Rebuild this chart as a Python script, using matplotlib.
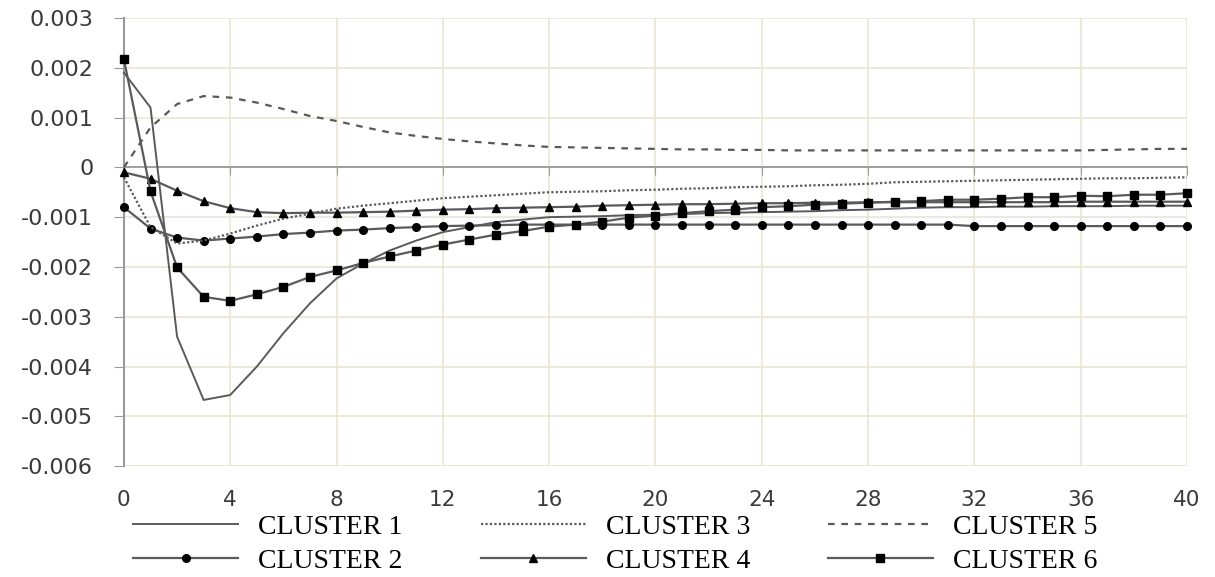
import numpy as np
import matplotlib
matplotlib.use("Agg")
import matplotlib.pyplot as plt

periods = list(range(0, 41))

cluster1 = [0.0019, 0.0012, -0.0034, -0.00467, -0.00457, -0.0040, -0.00333, -0.00273, -0.00223, -0.00193,
            -0.00167, -0.00147, -0.0013, -0.0012, -0.0011, -0.00105, -0.0010, -0.00099, -0.00098, -0.00096,
            -0.00095, -0.00094, -0.00092, -0.00091, -0.0009, -0.00089, -0.00088, -0.00086, -0.00085, -0.00083,
            -0.00081, -0.0008, -0.0008, -0.00079, -0.00079, -0.00078, -0.00078, -0.00078, -0.00077, -0.00077,
            -0.00077]
cluster2 = [-0.0008, -0.00123, -0.00141, -0.00147, -0.00143, -0.00139, -0.00134, -0.00131, -0.00127, -0.00125,
            -0.00122, -0.0012, -0.00118, -0.00117, -0.00116, -0.00115, -0.00115, -0.00115, -0.00115, -0.00115,
            -0.00115, -0.00115, -0.00115, -0.00115, -0.00115, -0.00115, -0.00115, -0.00115, -0.00115, -0.00115,
            -0.00115, -0.00115, -0.00118, -0.00118, -0.00118, -0.00118, -0.00118, -0.00118, -0.00118, -0.00118,
            -0.00118]
cluster3 = [-0.0002, -0.0012, -0.00153, -0.00147, -0.00133, -0.00117, -0.00103, -0.00093, -0.00083, -0.00077,
            -0.00072, -0.00067, -0.00062, -0.00059, -0.00056, -0.00053, -0.0005, -0.00049, -0.00048, -0.00046,
            -0.00045, -0.00043, -0.00042, -0.0004, -0.00039, -0.00038, -0.00036, -0.00035, -0.00033, -0.0003,
            -0.00029, -0.00028, -0.00027, -0.00026, -0.00025, -0.00024, -0.00023, -0.00022, -0.00022, -0.00021,
            -0.0002]
cluster4 = [-0.0001, -0.00023, -0.00047, -0.00068, -0.00082, -0.0009, -0.00092, -0.00091, -0.00091, -0.0009,
            -0.00089, -0.00087, -0.00085, -0.00084, -0.00082, -0.00081, -0.0008, -0.00079, -0.00077, -0.00076,
            -0.00075, -0.00074, -0.00074, -0.00073, -0.00072, -0.00072, -0.00071, -0.00071, -0.0007, -0.0007,
            -0.0007, -0.0007, -0.0007, -0.0007, -0.0007, -0.0007, -0.00069, -0.00069, -0.00069, -0.00069,
            -0.00069]
cluster5 = [0.0, 0.0008, 0.00127, 0.00143, 0.0014, 0.0013, 0.00117, 0.00103, 0.00093, 0.00081,
            0.0007, 0.00063, 0.00057, 0.00052, 0.00048, 0.00044, 0.00041, 0.0004, 0.00039, 0.00038,
            0.00037, 0.00036, 0.00036, 0.00035, 0.00035, 0.00034, 0.00034, 0.00034, 0.00034, 0.00034,
            0.00034, 0.00034, 0.00034, 0.00034, 0.00034, 0.00034, 0.00034, 0.00035, 0.00036, 0.00037,
            0.00037]
cluster6 = [0.00217, -0.00048, -0.00201, -0.0026, -0.00268, -0.00255, -0.0024, -0.0022, -0.00207, -0.00192,
            -0.00179, -0.00167, -0.00155, -0.00145, -0.00135, -0.00128, -0.00119, -0.00115, -0.00109, -0.00101,
            -0.00097, -0.00092, -0.00088, -0.00085, -0.0008, -0.00078, -0.00075, -0.00073, -0.00071, -0.00069,
            -0.00068, -0.00065, -0.00065, -0.00063, -0.0006, -0.0006, -0.00057, -0.00058, -0.00055, -0.00055,
            -0.00052]

labels = ["CLUSTER 1", "CLUSTER 2", "CLUSTER 3", "CLUSTER 4", "CLUSTER 5", "CLUSTER 6"]
x_ticks = [0, 4, 8, 12, 16, 20, 24, 28, 32, 36, 40]
y_ticks = [0.003, 0.002, 0.001, 0, -0.001, -0.002, -0.003, -0.004, -0.005, -0.006]
y_tick_labels = ["0.003", "0.002", "0.001", "0", "-0.001", "-0.002", "-0.003", "-0.004", "-0.005", "-0.006"]

fig = plt.figure(figsize=(12.15, 5.77), dpi=100)
ax = fig.add_axes([0.102, 0.192, 0.875, 0.777])

LC = "#5a5a5a"
grid_c = "#e9e5d3"
TXT = "#3a3a3a"

series = [
    (cluster1, dict(color=LC, lw=1.4, ls="-")),
    (cluster2, dict(color=LC, lw=1.6, ls="-", marker="o", ms=5.5, mfc="black", mec="black")),
    (cluster3, dict(color=LC, lw=1.6, ls=(0, (1, 1)))),
    (cluster4, dict(color=LC, lw=1.6, ls="-", marker="^", ms=5.5, mfc="black", mec="black")),
    (cluster5, dict(color=LC, lw=1.6, ls=(0, (3, 3)))),
    (cluster6, dict(color=LC, lw=1.6, ls="-", marker="s", ms=6, mfc="black", mec="black")),
]
handles = []
for (vals, st), lab in zip(series, labels):
    ln, = ax.plot(periods, vals, label=lab, clip_on=False, zorder=3, **st)
    handles.append(ln)

ax.set_xlim(0, 40)
ax.set_ylim(-0.006, 0.003)
ax.set_xticks(x_ticks)
ax.set_yticks(y_ticks)
ax.set_yticklabels(y_tick_labels)

ax.grid(True, color=grid_c, lw=1.2, zorder=0)
ax.set_axisbelow(True)

for s in ["top", "right"]:
    ax.spines[s].set_visible(False)
ax.spines["left"].set_color("#9a9a9a")
ax.spines["left"].set_linewidth(1.5)
ax.spines["bottom"].set_position(("data", 0))
ax.spines["bottom"].set_color("#9a9a9a")
ax.spines["bottom"].set_linewidth(1.3)
ax.tick_params(axis="x", direction="out", length=6, color="#9a9a9a", labelbottom=False)
ax.tick_params(axis="y", direction="out", length=7, color="#9a9a9a", labelsize=16,
               labelcolor=TXT, pad=15)
for t in ax.get_yticklabels():
    t.set_family("DejaVu Sans")

sec = ax.secondary_xaxis(0)
sec.set_xticks(x_ticks)
sec.tick_params(length=0, labelsize=15.5, labelcolor=TXT, pad=17)
sec.spines["bottom"].set_visible(False)
for t in sec.get_xticklabels():
    t.set_family("DejaVu Sans")

leg = fig.legend(handles=handles, labels=labels, ncol=3, loc="lower left",
                 bbox_to_anchor=(0.0893, -0.038), frameon=False,
                 prop={"family": "Liberation Serif", "size": 20},
                 handlelength=3.78, columnspacing=2.8, labelspacing=0.30, handletextpad=0.72)

fig.savefig("out.png", dpi=100, facecolor="white")
